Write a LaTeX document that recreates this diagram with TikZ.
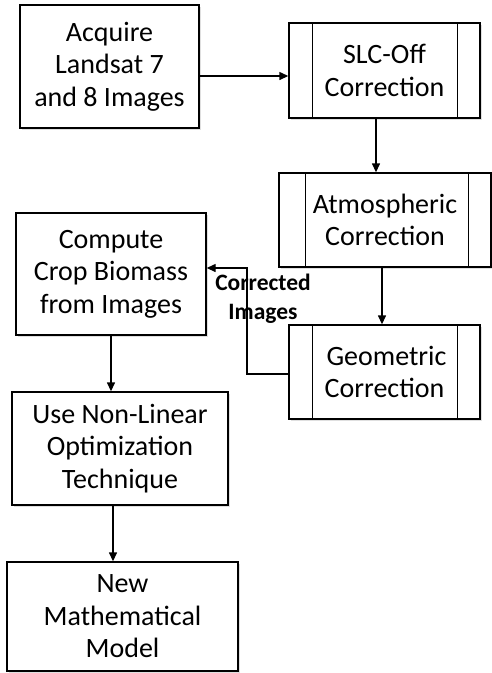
\documentclass[tikz,border=0pt]{standalone}
\usepackage{fontspec}
\setmainfont{Carlito}
\usetikzlibrary{arrows.meta,shadows}
\tikzset{
  box/.style={draw=black, line width=1.4pt, fill=white, align=center, inner sep=0pt,
    font=\fontsize{28}{32.5}\selectfont,
    drop shadow={shadow xshift=2pt, shadow yshift=-2pt, fill=black!18, opacity=0.7}},
  arr/.style={line width=1.4pt, -{Triangle[length=9pt,width=8pt]}},
  lbl/.style={font=\bfseries\fontsize{23.5}{29}\selectfont, align=center, inner sep=0pt},
}
\newcommand{\innerbars}[3]{% node, left offset, right offset
  \draw[line width=1.4pt] ([xshift=#2]#1.north west) -- ([xshift=#2]#1.south west);
  \draw[line width=1.4pt] ([xshift=-#3]#1.north east) -- ([xshift=-#3]#1.south east);}
\begin{document}
\begin{tikzpicture}[x=1pt,y=-1pt]
\useasboundingbox (0,0) rectangle (492,673);
\node[box, minimum width=179pt, minimum height=123pt] (acq) at (109.5,66.5) {Acquire\\Landsat 7\\and 8 Images};
\node[box, minimum width=191pt, minimum height=95pt] (slc) at (384.5,70.5) {SLC-Off\\Correction};
\innerbars{slc}{24pt}{23pt}
\node[box, minimum width=212pt, minimum height=94pt] (atm) at (385,220) {Atmospheric\\Correction};
\innerbars{atm}{27pt}{23pt}
\node[box, minimum width=191pt, minimum height=94pt] (geo) at (384.5,372) {\hspace*{4pt}Geometric\\Correction};
\innerbars{geo}{24pt}{23pt}
\node[box, minimum width=190pt, minimum height=122pt] (comp) at (111,274) {Compute\\Crop Biomass\\from Images};
\node[box, minimum width=216pt, minimum height=113pt] (use) at (120,448.5) {Use Non-Linear\\Optimization\\Technique};
\node[box, minimum width=231pt, minimum height=109pt] (new) at (122.5,616.5) {New\\Mathematical\\Model};

\draw[arr] (acq.east |- 0,76) -- (slc.west |- 0,76);
\draw[arr] (slc.south -| 376,0) -- (atm.north -| 376,0);
\draw[arr] (atm.south -| 382,0) -- (geo.north -| 382,0);
\coordinate (bend) at (247,268);
\draw[arr] (geo.west |- 0,374) -| (bend) -- (comp.east |- bend);
\draw[arr] (comp.south) -- (use.north -| comp.south);
\draw[arr] (use.south -| 113,0) -- (new.north -| 113,0);
\node[lbl] (corr) at (263,299) {Corrected\\Images};
\end{tikzpicture}
\end{document}
